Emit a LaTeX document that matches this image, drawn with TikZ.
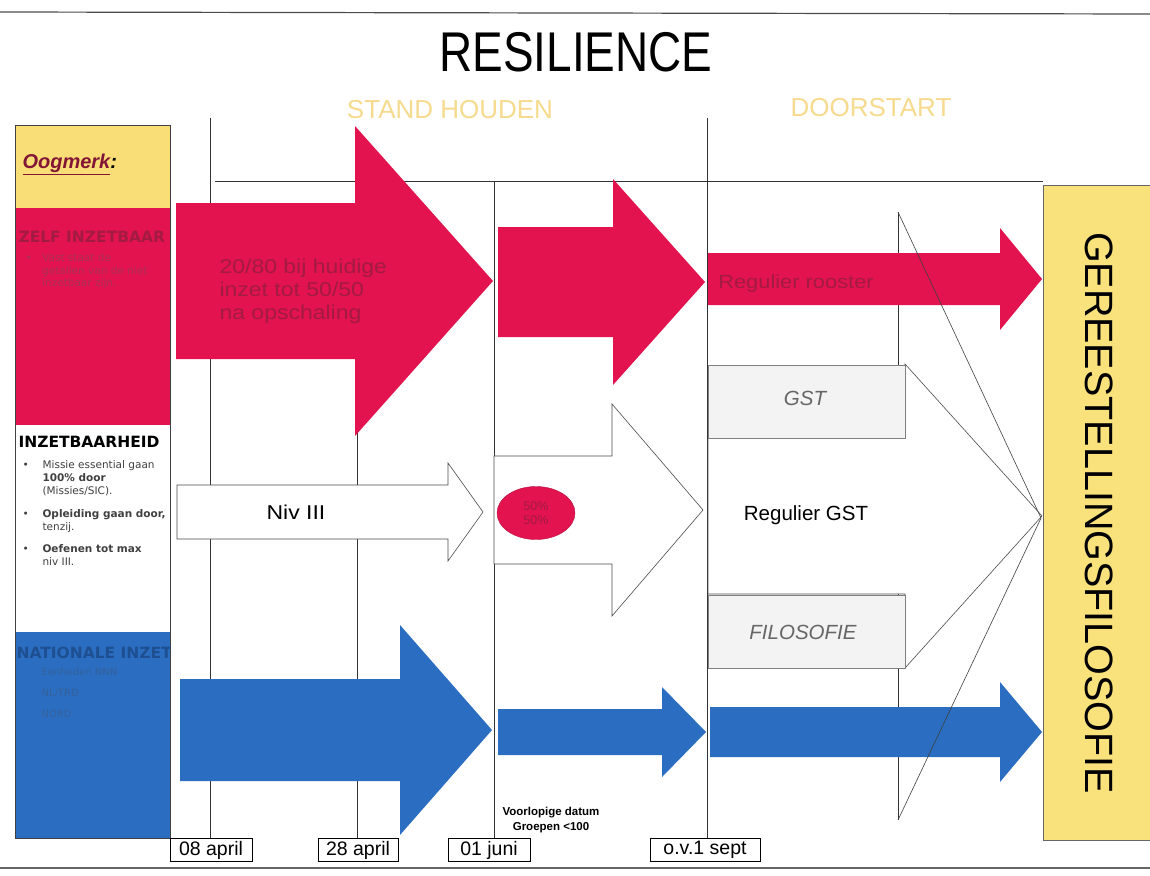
\documentclass[tikz,border=0pt]{standalone}
\usepackage{fontspec}
\setmainfont{Liberation Sans}
\newfontfamily\wide[FakeStretch=1.15]{Liberation Sans}
\newfontfamily\smal[FakeStretch=0.82]{Liberation Sans}
\newfontfamily\verd{DejaVu Sans}
\usetikzlibrary{shapes,arrows,positioning}
\definecolor{resred}{HTML}{E2134F}
\definecolor{resdark}{HTML}{A31A42}
\definecolor{resblue}{HTML}{2B6DC0}
\definecolor{resbluedark}{HTML}{1E4F91}
\definecolor{resyellow}{HTML}{F9E27C}
\definecolor{respale}{HTML}{F6DA8E}
\definecolor{resgrey}{HTML}{F3F3F3}
% blokpijl{stijl}{x begin}{x kop}{x punt}{y midden}{halve romp}{halve kop}
\newcommand{\blokpijl}[7]{\path[#1] (#2,{#5-#6}) -- (#3,{#5-#6}) -- (#3,{#5-#7}) -- (#4,#5) -- (#3,{#5+#7}) -- (#3,{#5+#6}) -- (#2,{#5+#6}) -- cycle;}

\begin{document}
\begin{tikzpicture}[x=1pt, y=-1pt, node distance = 2pt, auto]
        \tikzstyle{grid} = [draw, black!80, line width=0.9pt]
        \tikzstyle{redarrow} = [fill=resred]
        \tikzstyle{bluearrow} = [fill=resblue]
        \tikzstyle{whitearrow} = [draw=black!70, fill=white, line width=0.6pt]
        \tikzstyle{datebox} = [rectangle, draw, line width=0.8pt, fill=white, minimum height=23pt, inner sep=2pt, font=\fontsize{19.5}{20}\selectfont]
        \tikzstyle{phase} = [text=respale, font=\fontsize{26}{28}\selectfont]
        \tikzstyle{lefthead} = [anchor=west, font=\verd\bfseries\fontsize{15.5}{17}\selectfont]
        \tikzstyle{leftline} = [anchor=north west, align=left, font=\verd\fontsize{10.5}{13}\selectfont]
        \tikzstyle{greylabel} = [text=black!60, font=\itshape\fontsize{20.5}{22}\selectfont]

    \useasboundingbox (0,0) rectangle (1150,875);
    \fill[white] (0,0) rectangle (1150,875);
    \draw[black!70, line width=1.2pt] (0,12) -- (1150,14);
    \draw[black!60, line width=1.2pt] (0,868) -- (1150,868);

    % titel en fasen
    \node[font=\smal\fontsize{56}{60}\selectfont] (title) at (576,52) {RESILIENCE};
    \node[phase] (stand) at (450,110) {STAND HOUDEN};
    \node[phase] (door) at (871,108) {DOORSTART};

    % tijdlijnen
    \draw[grid] (215,181) -- (1043,181);
    \draw[grid] (210,118) -- (210,840);
    \draw[grid] (357,181) -- (357,840);
    \draw[grid] (494,181) -- (494,840);
    \draw[grid] (707,118) -- (707,840);
    \draw[grid, line width=0.6pt] (898,212) -- (898,820);

    % linker kolom
    \fill[resyellow!95!orange] (15,125) rectangle (170,208);
    \fill[resred] (15,208) rectangle (170,425);
    \fill[white] (15,425) rectangle (170,632);
    \fill[resblue] (15,632) rectangle (170,838);
    \draw[black!75, line width=1pt] (15,125) rectangle (170,838);
    \node[anchor=west, text=resdark!80!black, font=\bfseries\itshape\fontsize{20}{22}\selectfont] (oogmerk) at (19,164) {\underline{Oogmerk}\textcolor{black}{:}};

    \begin{scope}
      \clip (15,208) rectangle (170,838);
      \node[lefthead, text=resdark] (zelf) at (15,237) {ZELF INZETBAAR};
      \node[lefthead, text=resbluedark] (nat) at (13,653) {NATIONALE INZET};
    \end{scope}
    \node[leftline, text=resdark!90, font=\verd\fontsize{10.5}{12.5}\selectfont] (zelftxt) at (22,250) {\textbullet\quad Vast staat de\\ \phantom{\textbullet}\quad getallen van de niet\\ \phantom{\textbullet}\quad inzetbaar zijn.};

    \node[lefthead] (inzet) at (15,442) {INZETBAARHEID};
    \node[leftline, text=black!75] (inzettxt) at (19,457) {\textbullet\quad\ Missie essential gaan\\ \phantom{\textbullet}\quad\ \textbf{100\% door}\\ \phantom{\textbullet}\quad\ (Missies/SIC).\\[10pt] \textbullet\quad\ \textbf{Opleiding gaan door,}\\ \phantom{\textbullet}\quad\ tenzij.\\[9pt] \textbullet\quad\ \textbf{Oefenen tot max}\\ \phantom{\textbullet}\quad\ niv III.};

    \node[leftline, text=resbluedark!90, font=\verd\fontsize{10}{21}\selectfont] (nattxt) at (38,664) {Eenheden NNN\\ NL/TRD\\ NORD};

    % rode pijlen
    \blokpijl{redarrow}{176}{355}{493}{281}{78}{155}
    \blokpijl{redarrow}{498}{613}{705}{282}{55}{103}
    \blokpijl{redarrow}{708}{1000}{1042}{279}{26}{51}
    \node[anchor=north west, align=left, text=resdark, font=\wide\fontsize{20}{23}\selectfont] (opschaling) at (216,255) {20/80 bij huidige\\ inzet tot 50/50\\ na opschaling};
    \node[text=resdark, font=\wide\fontsize{19}{21}\selectfont] (rooster) at (796,284) {Regulier rooster};

    % witte pijlen
    \blokpijl{whitearrow}{177}{448}{483}{512}{27}{49}
    \node[font=\wide\fontsize{20}{22}\selectfont] (niv) at (296,512) {Niv III};
    \blokpijl{whitearrow}{494}{612}{703}{510}{54}{106}
    \node[ellipse, fill=resred, draw=resred!80!black, minimum width=78pt, minimum height=53pt, inner sep=0pt, align=center, text=resdark, font=\fontsize{12.5}{14}\selectfont] (ellips) at (536,513) {50\%\\ 50\%};

    \blokpijl{whitearrow}{708}{905}{1042}{516}{78}{152}
    \node[rectangle, draw=black!50, fill=resgrey, minimum width=197pt, minimum height=73pt, inner sep=0pt] (gstbox) at (806.5,401.5) {};
    \node[rectangle, draw=black!50, fill=resgrey, minimum width=197pt, minimum height=73pt, inner sep=0pt] (filobox) at (806.5,631.5) {};
    \node[greylabel] (gst) at (805,398) {GST};
    \node[greylabel] (filo) at (803,632) {FILOSOFIE};
    \node[font=\fontsize{20.5}{22}\selectfont] (regulier) at (806,515) {Regulier GST};

    % blauwe pijlen
    \blokpijl{bluearrow}{180}{400}{492}{730}{51}{105}
    \blokpijl{bluearrow}{498}{662}{706}{732}{23}{45}
    \blokpijl{bluearrow}{710}{1000}{1042}{732}{25}{50}

    % eindpunt
    \node[rectangle, draw=black!60, fill=resyellow, minimum width=107pt, minimum height=655pt, inner sep=0pt] (doel) at (1096.5,512.5) {};
    \node[rotate=-90, font=\fontsize{39.5}{42}\selectfont] (filosofie) at (1099,513) {GEREESTELLINGSFILOSOFIE};
    \coordinate (punt) at (1041,518);
    \draw[black!75, line width=0.6pt] (898,212) -- (punt) -- (898,820);

    % datums
    \node[datebox, minimum width=82pt] (d1) at (211,850) {08 april};
    \node[datebox, minimum width=80pt] (d2) at (358,850) {28 april};
    \node[datebox, minimum width=82pt] (d3) at (489,850) {01 juni};
    \node[datebox, minimum width=110pt] (d4) at (705,850) {o.v.1 sept};
    \node[font=\bfseries\fontsize{11.5}{13}\selectfont] (voorlopig) at (551,813) {Voorlopige datum};
    \node[font=\bfseries\fontsize{11.5}{13}\selectfont, below=-3pt of voorlopig] (groepen) {Groepen <100};
    \end{tikzpicture}
\end{document}
